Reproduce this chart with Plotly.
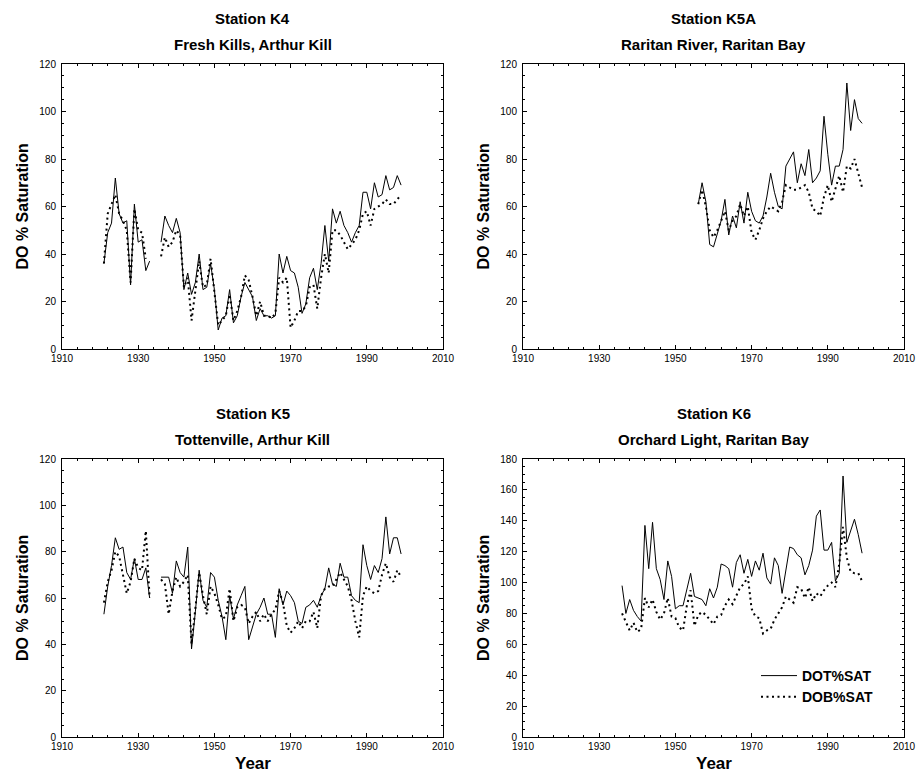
import plotly.graph_objects as go

# ---------------- data: annual DO % saturation (top = DOT, bottom = DOB) ----------------
years_k4 = list(range(1921, 2000))
dot_k4 = [36, 49, 53, 72, 57, 53, 54, 27, 61, 45, 46, 33, 37,
          None, None,
          45, 56, 52, 49, 55, 49, 25, 32, 23, 28, 40, 25, 26, 36, 25, 8, 13, 14, 25, 11,
          14, 22, 28, 25, 22, 12, 17, 14, 14, 13, 14, 40, 32, 39, 33, 32, 26, 15, 19, 30,
          34, 25, 36, 52, 37, 59, 53, 58, 52, 49, 45, 49, 52, 66, 66, 59, 70, 64, 65, 73,
          67, 68, 73, 69]
dob_k4 = [36, 57, 61, 65, 57, 54, 50, 28, 59, 50, 49, 38, None,
          None, None,
          39, 47, 43, 45, 50, 48, 26, 30, 12, 25, 37, 26, 27, 38, 24, 10, 12, 14, 23, 12,
          16, 22, 31, 29, 22, 14, 20, 14, 14, 13, 15, 30, 28, 30, 9, 12, 16, 16, 18, 26,
          27, 17, 30, 40, 32, 50, 50, 48, 45, 42, 44, 46, 50, 57, 58, 52, 59, 60, 61, 63,
          61, 61, 63, 65]

years_k5a = list(range(1956, 2000))
dot_k5a = [61, 70, 62, 44, 43, 49, 54, 63, 48, 56, 51, 62, 53, 66, 58, 54, 53, 56, 64,
           74, 66, 60, 59, 77, 80, 83, 70, 78, 73, 84, 70, 72, 75, 98, 82, 69, 77, 77, 84,
           112, 92, 105, 97, 95]
dob_k5a = [61, 67, 60, 50, 47, 50, 54, 58, 50, 54, 56, 61, 56, 60, 49, 46, 50, 55, 58,
           60, 59, 58, 62, 69, 68, 67, 67, 68, 69, 66, 59, 58, 56, 64, 69, 62, 67, 73, 66,
           77, 76, 80, 74, 68]

years_k5 = list(range(1921, 2000))
dot_k5 = [53, 65, 74, 86, 81, 82, 71, 68, 77, 68, 68, 73, 60,
          None, None,
          69, 69, 69, 62, 76, 71, 69, 82, 38, 54, 72, 59, 56, 71, 69, 59, 52, 42, 61, 51,
          57, 61, 65, 42, 48, 53, 56, 60, 53, 53, 43, 64, 57, 63, 61, 58, 50, 49, 56, 57,
          59, 56, 61, 64, 73, 66, 65, 75, 69, 69, 61, 59, 58, 83, 74, 68, 74, 71, 77, 95,
          79, 86, 86, 79]
dob_k5 = [58, 67, 72, 80, 78, 70, 62, 67, 77, 73, 72, 89, 60,
          None, None,
          68, 66, 53, 63, 69, 65, 67, 70, 40, 55, 71, 61, 53, 65, 62, 57, 51, 52, 64, 50,
          56, 57, 56, 49, 52, 54, 50, 53, 50, 53, 55, 63, 58, 48, 45, 47, 50, 47, 50, 50,
          54, 47, 61, 64, 65, 65, 68, 71, 68, 65, 59, 50, 43, 61, 65, 63, 62, 63, 70, 75,
          69, 67, 72, 69]

years_k6 = list(range(1936, 2000))
dot_k6 = [98, 80, 89, 82, 78, 75, 137, 109, 139, 109, 102, 89, 114, 104, 83, 85, 85, 96,
          106, 91, 90, 89, 85, 96, 90, 97, 112, 111, 109, 97, 113, 118, 106, 115, 104, 114,
          108, 119, 103, 99, 116, 111, 93, 107, 123, 122, 118, 116, 105, 111, 121, 143, 147,
          121, 121, 126, 101, 106, 169, 126, 134, 141, 131, 119]
dob_k6 = [80, 75, 69, 74, 68, 70, 90, 84, 89, 81, 76, 80, 90, 78, 77, 71, 69, 85, 95, 72,
          79, 81, 79, 76, 73, 78, 79, 85, 89, 86, 92, 97, 99, 104, 83, 78, 77, 67, 69, 70,
          76, 80, 84, 91, 89, 87, 97, 96, 90, 97, 88, 93, 91, 95, 98, 100, 97, 112, 136,
          116, 107, 106, 106, 101]

titles = [("Station K4", "Fresh Kills, Arthur Kill"),
          ("Station K5A", "Raritan River, Raritan Bay"),
          ("Station K5", "Tottenville, Arthur Kill"),
          ("Station K6", "Orchard Light, Raritan Bay")]
y_ranges = [(0, 120), (0, 120), (0, 120), (0, 180)]
series = [(years_k4, dot_k4, dob_k4), (years_k5a, dot_k5a, dob_k5a),
          (years_k5, dot_k5, dob_k5), (years_k6, dot_k6, dob_k6)]

# ---------------- layout geometry ----------------
W, H = 917, 781
x_doms = [(62 / W, 443 / W), (523 / W, 904 / W)]
y_doms = [(1 - 349 / H, 1 - 64 / H), (1 - 737 / H, 1 - 459 / H)]

FONT = "Liberation Sans, Arial, sans-serif"
fig = go.Figure()
layout = dict(width=W, height=H,
              margin=dict(l=0, r=0, t=0, b=0, pad=0, autoexpand=False),
              paper_bgcolor="white", plot_bgcolor="white",
              font=dict(family=FONT, color="black"),
              showlegend=True)
annotations = []

for i, ((yrs, dot, dob), (t1, t2), yr) in enumerate(zip(series, titles, y_ranges)):
    row, col = divmod(i, 2)
    n = i + 1
    sfx = "" if n == 1 else str(n)
    xd, yd = x_doms[col], y_doms[row]
    fig.add_trace(go.Scatter(x=yrs, y=dot, mode="lines", name="DOT%SAT",
                             line=dict(color="black", width=1.0),
                             connectgaps=False, showlegend=(n == 4),
                             xaxis="x" + sfx, yaxis="y" + sfx))
    fig.add_trace(go.Scatter(x=yrs, y=dob, mode="lines", name="DOB%SAT",
                             line=dict(color="black", width=2.0, dash="2px,3.5px"),
                             connectgaps=False, showlegend=(n == 4),
                             xaxis="x" + sfx, yaxis="y" + sfx))
    axis_common = dict(showline=True, linecolor="black", linewidth=1, mirror="ticks",
                       ticks="inside", ticklen=4, tickcolor="black", showgrid=False,
                       zeroline=False, automargin=False,
                       tickfont=dict(size=10, color="black", family=FONT))
    layout["xaxis" + sfx] = dict(axis_common, domain=list(xd), range=[1910, 2010],
                                 tick0=1910, dtick=20, anchor="y" + sfx,
                                 minor=dict(dtick=4, tick0=1910, ticks="inside",
                                            ticklen=2, tickcolor="black"))
    layout["yaxis" + sfx] = dict(axis_common, domain=list(yd), range=list(yr),
                                 tick0=0, dtick=20, anchor="x" + sfx, ticklabelstandoff=3,
                                 minor=dict(dtick=5, ticks="inside", ticklen=2,
                                            tickcolor="black"))
    xc = (xd[0] + xd[1]) / 2
    ytop = yd[1]
    annotations.append(dict(text="<b>%s</b>" % t1, x=xc, y=ytop + 46 / H, xref="paper",
                            yref="paper", showarrow=False, xanchor="center",
                            yanchor="middle", font=dict(size=15, family=FONT)))
    annotations.append(dict(text="<b>%s</b>" % t2, x=xc, y=ytop + 20 / H, xref="paper",
                            yref="paper", showarrow=False, xanchor="center",
                            yanchor="middle", font=dict(size=15, family=FONT)))
    annotations.append(dict(text="<b>DO % Saturation</b>", x=(xd[0] - 40 / W),
                            y=(yd[0] + yd[1]) / 2, xref="paper", yref="paper",
                            showarrow=False, textangle=-90, xanchor="center",
                            yanchor="middle", font=dict(size=16, family=FONT)))
    if row == 1:
        annotations.append(dict(text="<b>Year</b>", x=xc, y=yd[0] - 26 / H, xref="paper",
                                yref="paper", showarrow=False, xanchor="center",
                                yanchor="middle", font=dict(size=17, family=FONT)))

layout["annotations"] = annotations
layout["legend"] = dict(x=756 / W, y=1 - 660 / H, xanchor="left", yanchor="top",
                        bgcolor="rgba(0,0,0,0)", font=dict(size=14, family=FONT),
                        tracegroupgap=0, itemwidth=36)
fig.update_layout(**layout)
fig.for_each_trace(lambda t: t.update(name="<b>%s</b>" % t.name))

fig.write_html("out.html")
